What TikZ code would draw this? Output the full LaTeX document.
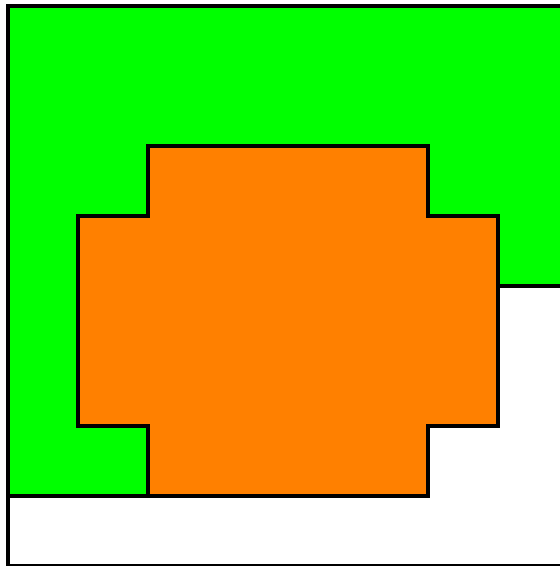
\documentclass[tikz,border=0pt]{standalone}
\definecolor{gr}{HTML}{00FF00}
\definecolor{og}{HTML}{FF8000}
\begin{document}
\begin{tikzpicture}[x=1pt,y=-1pt,line width=4pt,line join=miter,
  region/.style={draw=black}]
\useasboundingbox (0,0) rectangle (560,566);
\clip (0,0) rectangle (560,566);
\draw[region,fill=white] (8,6) rectangle (568,566);
\draw[region,fill=gr] (8,6) -- (568,6) -- (568,286) -- (498,286) -- (498,426) -- (428,426) -- (428,496) -- (8,496) -- cycle;
\draw[region,fill=og] (148,146) -- (428,146) -- (428,216) -- (498,216) -- (498,426) -- (428,426) -- (428,496) -- (148,496) -- (148,426) -- (78,426) -- (78,216) -- (148,216) -- cycle;
\end{tikzpicture}
\end{document}
